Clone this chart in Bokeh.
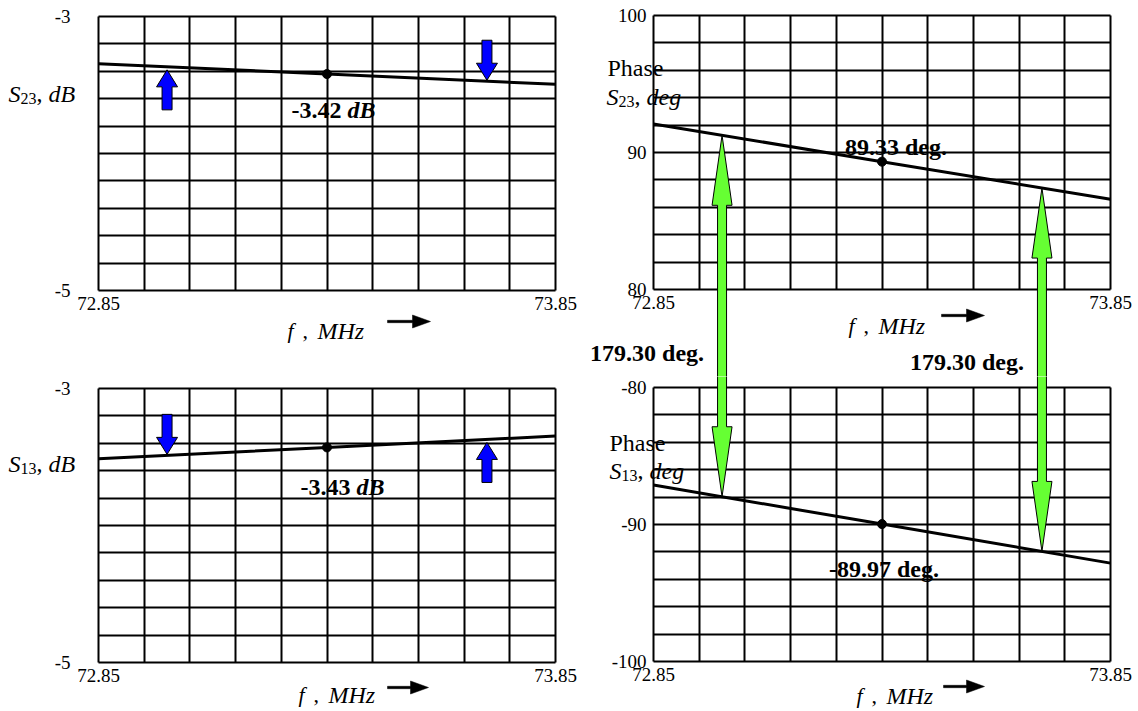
import numpy as np
from bokeh.plotting import figure
from bokeh.layouts import row, column
from bokeh.models import (FixedTicker, Label, PolyAnnotation, LinearAxis, Grid,
                          CustomJSTickFormatter)
from bokeh.embed import file_html
from bokeh.resources import INLINE

# ---- measured transmission data (three points across the band) ----
freq_mhz = [72.85, 73.35, 73.85]
s23_db = [-3.345, -3.42, -3.495]
s13_db = [-3.513, -3.43, -3.347]
s23_phase_deg = [92.08, 89.33, 86.58]
s13_phase_deg = [-87.12, -89.97, -92.82]
marker_idx = 1                      # centre frequency point that is annotated
arrow_freqs_mhz = [73.0, 73.7]      # band-edge markers

# ---- axis ticks and grid ----
freq_ticks = [72.85, 73.85]
freq_grid = [72.95, 73.05, 73.15, 73.25, 73.35, 73.45, 73.55, 73.65, 73.75]
db_ticks = [-5, -3]
db_grid = [-4.8, -4.6, -4.4, -4.2, -4.0, -3.8, -3.6, -3.4, -3.2]
ph23_ticks = [80, 90, 100]
ph23_grid = [82, 84, 86, 88, 90, 92, 94, 96, 98]
ph13_ticks = [-100, -90, -80]
ph13_grid = [-98, -96, -94, -92, -90, -88, -86, -84, -82]

# ---- styling / layout ----
FONT = "Liberation Serif"
BLUE = "#0000ff"
GREEN = "#66ff33"
FRAME_W, FRAME_H = 457, 274          # size of each chart box in pixels
LEFT_W, RIGHT_W = 578, 560
TOP_H, BOTTOM_H = 376, 335
HAS_CROSS_BOUNDS = "cross_bounds" in Grid.properties()


class Panel:
    """One chart cell.  The plot frame fills the whole cell so that captions
    and arrows may sit outside the gridded box; the box itself is built from
    axes placed at fixed locations."""

    def __init__(self, org, frame_left, frame_top, col_w, row_h,
                 y_range, y_ticks, y_grid, y_standoff):
        self.left, self.top = frame_left, frame_top
        self.x_lo, self.x_hi = freq_ticks[0], freq_ticks[-1]
        self.y_lo, self.y_hi = y_range
        self.kx = FRAME_W / (self.x_hi - self.x_lo)
        self.ky = FRAME_H / (self.y_hi - self.y_lo)
        x0 = self.dx(org[0])
        x1 = self.dx(org[0] + col_w)
        y1 = self.dy(org[1])
        y0 = self.dy(org[1] + row_h)
        p = figure(width=col_w, height=row_h, x_range=(x0, x1), y_range=(y0, y1),
                   x_axis_type=None, y_axis_type=None,
                   title=None, toolbar_location=None, output_backend="svg",
                   min_border=0)
        p.outline_line_color = None
        p.background_fill_color = "white"
        p.border_fill_color = "white"

        xb = (self.x_lo, self.x_hi)
        yb = (self.y_lo, self.y_hi)

        def axis(side, loc, bounds, ticks, standoff=0, tick_in=0, labels=True):
            ax = LinearAxis(ticker=FixedTicker(ticks=ticks), fixed_location=loc,
                            bounds=bounds, major_tick_in=tick_in, major_tick_out=0,
                            minor_tick_in=0, minor_tick_out=0,
                            major_tick_line_color="black", major_tick_line_width=2,
                            axis_line_color="black", axis_line_width=2,
                            major_label_standoff=standoff,
                            major_label_text_font=FONT,
                            major_label_text_font_size="19px" if labels else "0px",
                            major_label_text_color="black")
            p.add_layout(ax, side)
            return ax

        axis("below", self.y_lo, xb, freq_ticks, standoff=6)
        ya = axis("left", self.x_lo, yb, y_ticks, standoff=y_standoff)
        ya.formatter = CustomJSTickFormatter(code="return String(tick);")
        if HAS_CROSS_BOUNDS:
            axis("above", self.y_hi, xb, [], labels=False)
            axis("right", self.x_hi, yb, [], labels=False)
            for dim, ticks, cb in ((0, freq_grid, yb), (1, y_grid, xb)):
                p.add_layout(Grid(dimension=dim, ticker=FixedTicker(ticks=ticks),
                                  cross_bounds=cb, grid_line_color="black",
                                  grid_line_width=2, grid_line_alpha=1))
        else:
            # interior rules as full-length inward ticks of the top/right axes
            axis("above", self.y_hi, xb, freq_grid, tick_in=FRAME_H, labels=False)
            axis("right", self.x_hi, yb, y_grid, tick_in=FRAME_W, labels=False)
        self.fig = p

    def dx(self, px):
        return self.x_lo + (px - self.left) / self.kx

    def dy(self, py):
        return self.y_hi - (py - self.top) / self.ky

    def px(self, x):
        return self.left + (x - self.x_lo) * self.kx

    def py(self, y):
        return self.top + (self.y_hi - y) * self.ky

    def text(self, x_px, y_px, text, size, style="normal", align="left"):
        self.fig.add_layout(Label(
            x=self.dx(x_px), y=self.dy(y_px), text=text,
            text_font=FONT, text_font_size=f"{size}px", text_font_style=style,
            text_color="black", text_align=align, text_baseline="alphabetic"))

    def polygon(self, pts, fill, line_width=1.0, line_color="black"):
        self.fig.add_layout(PolyAnnotation(
            xs=[self.dx(a) for a, _ in pts], ys=[self.dy(b) for _, b in pts],
            fill_color=fill, fill_alpha=1.0,
            line_color=line_color, line_alpha=1.0, line_width=line_width))

    def series(self, values):
        self.fig.line(freq_mhz, values, line_color="black", line_width=3)
        self.fig.scatter([freq_mhz[marker_idx]], [values[marker_idx]],
                         marker="circle", size=9, color="black")

    def caption(self, x_px, base_px, pieces):
        for off, txt, size, style, rise in pieces:
            self.text(x_px + off, base_px - rise, txt, size, style)

    def freq_caption(self, x_px, base_px, arrow_x0, arrow_x1, arrow_y):
        self.caption(x_px, base_px, [
            (0, "f", 22, "italic", 0),
            (15, ",", 22, "normal", 0),
            (30, "MHz", 24, "italic", 0),
        ])
        hl, hh = 18, 6.5
        self.polygon([(arrow_x0, arrow_y - 1.2), (arrow_x1 - hl, arrow_y - 1.2),
                      (arrow_x1 - hl, arrow_y - hh), (arrow_x1, arrow_y),
                      (arrow_x1 - hl, arrow_y + hh), (arrow_x1 - hl, arrow_y + 1.2),
                      (arrow_x0, arrow_y + 1.2)], "black", line_width=0.5)


def block_arrow(tip_x, tip_y, pointing_up, length, head_len, head_w, shaft_w):
    s = 1 if pointing_up else -1
    return [(tip_x, tip_y),
            (tip_x + head_w / 2, tip_y + s * head_len),
            (tip_x + shaft_w / 2, tip_y + s * head_len),
            (tip_x + shaft_w / 2, tip_y + s * length),
            (tip_x - shaft_w / 2, tip_y + s * length),
            (tip_x - shaft_w / 2, tip_y + s * head_len),
            (tip_x - head_w / 2, tip_y + s * head_len)]


def sub_label(sub, unit):
    return [(0, "S", 24, "italic", 0),
            (12, sub, 16, "normal", -5),
            (28, ",", 24, "normal", 0),
            (40, unit, 24, "italic", 0)]


tl = Panel((0, 0), 98, 16, LEFT_W, TOP_H, (-5, -3), db_ticks, db_grid, 28)
bl = Panel((0, TOP_H), 98, 388, LEFT_W, BOTTOM_H, (-5, -3), db_ticks, db_grid, 28)
tr = Panel((LEFT_W, 0), 653, 15, RIGHT_W, TOP_H, (80, 100), ph23_ticks, ph23_grid, 7)
br = Panel((LEFT_W, TOP_H), 653, 387, RIGHT_W, BOTTOM_H, (-100, -80), ph13_ticks, ph13_grid, 7)

# ---- magnitude panels ----
for pan, vals, name, arrows_up, lab_dx, lab_dy in (
        (tl, s23_db, "23", (True, False), -35.5, 36),
        (bl, s13_db, "13", (False, True), -26.5, 40)):
    pan.series(vals)
    for f, up in zip(arrow_freqs_mhz, arrows_up):
        tx = pan.px(f)
        ty = pan.py(np.interp(f, freq_mhz, vals)) + (3 if up else -1)
        pan.polygon(block_arrow(tx, ty, up, 40, 17, 21, 10), BLUE)
    dot_x = pan.px(freq_mhz[marker_idx])
    dot_y = pan.py(vals[marker_idx])
    pan.text(dot_x + lab_dx, dot_y + lab_dy, f"{vals[marker_idx]:.2f}", 24, "bold")
    pan.text(dot_x + lab_dx + 56, dot_y + lab_dy, "dB", 24, "bold italic")
    pan.caption(8, pan.top + (77 if pan is tl else 75), sub_label(name, "dB"))

tl.freq_caption(287, 330, 387, 430, 321)
bl.freq_caption(298, 694, 387, 428, 687)

# ---- phase panels ----
tr.series(s23_phase_deg)
br.series(s13_phase_deg)

d = tr.px(freq_mhz[marker_idx])
tr.text(d - 37, tr.py(s23_phase_deg[marker_idx]) - 15,
        f"{s23_phase_deg[marker_idx]:.2f} deg.", 24, "bold")
d = br.px(freq_mhz[marker_idx])
br.text(d - 53, br.py(s13_phase_deg[marker_idx]) + 45,
        f"{s13_phase_deg[marker_idx]:.2f} deg.", 24, "bold")

tr.text(607, 67, "Phase", 24)
tr.caption(606, 96, sub_label("23", "deg"))
br.text(609, 442, "Phase", 24)
br.caption(609, 470, sub_label("13", "deg"))

tr.freq_caption(848, 325, 941, 984, 315)
br.freq_caption(856, 695, 943, 984, 686)

# green double arrows spanning both phase panels (drawn in two halves)
diff_text = f"{s23_phase_deg[marker_idx] - s13_phase_deg[marker_idx]:.2f} deg."
for f, base in zip(arrow_freqs_mhz, (352, 361)):
    x = tr.px(f)
    tr.polygon(block_arrow(x, tr.py(np.interp(f, freq_mhz, s23_phase_deg)),
                           True, 900, 70, 20, 9), GREEN)
    br.polygon(block_arrow(x, br.py(np.interp(f, freq_mhz, s13_phase_deg)),
                           False, 900, 70, 20, 9), GREEN)
    tr.text(x - 18, base, diff_text, 24, "bold", align="right")

layout = row(column(tl.fig, bl.fig), column(tr.fig, br.fig))
open("out.html", "w").write(file_html(layout, INLINE))
